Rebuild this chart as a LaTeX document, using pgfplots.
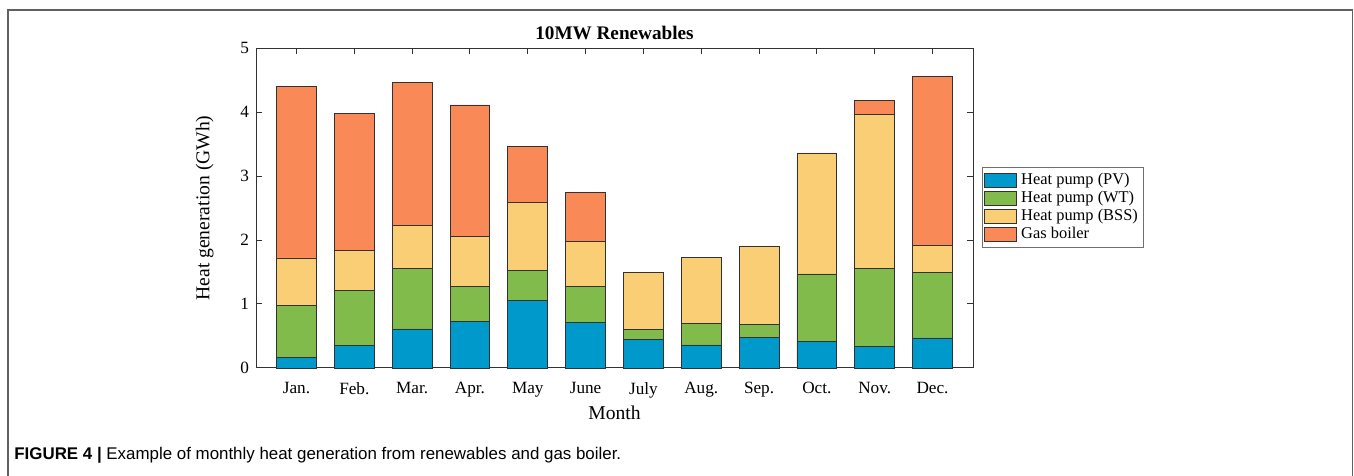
\documentclass[border=0pt]{standalone}
\usepackage{fontspec}
\setmainfont{Liberation Serif}
\newfontfamily\capfont{Liberation Sans}
\usepackage{pgfplots}
\pgfplotsset{compat=1.18}
\definecolor{cPV}{RGB}{0,153,204}
\definecolor{cWT}{RGB}{128,187,76}
\definecolor{cBSS}{RGB}{250,206,116}
\definecolor{cGas}{RGB}{250,137,88}
\definecolor{edge}{RGB}{50,50,50}
\begin{document}
\begin{tikzpicture}
\useasboundingbox (0,0) rectangle (677pt,238pt);
\draw[gray!75!black, line width=0.7pt] (4pt,0) -- (4pt,233pt) -- (676.3pt,233pt) -- (676.3pt,0);
\begin{axis}[
  at={(128pt,54pt)}, anchor=south west,
  scale only axis, width=358.5pt, height=160pt,
  clip=false,
  ybar stacked, bar width=0.69,
  xmin=0.3, xmax=12.7, ymin=0, ymax=5,
  xtick={1,...,12},
  xticklabels={Jan.,Feb.,Mar.,Apr.,May,June,July,Aug.,Sep.,Oct.,Nov.,Dec.},
  ytick={0,1,2,3,4,5},
  tick align=inside, major tick length=3pt,
  axis line style={edge, line width=0.5pt},
  every tick/.style={edge, line width=0.5pt},
  tick label style={font=\fontsize{8.6}{10}\selectfont},
  /pgf/number format/assume math mode=true,
  xticklabel style={yshift=-3.5pt},
  xlabel={Month}, ylabel={Heat generation (GWh)},
  label style={font=\fontsize{9.8}{11}\selectfont},
  xlabel style={yshift=3pt},
  ylabel style={yshift=6.5pt},
  every axis plot/.append style={draw=edge, line width=0.4pt},
  legend style={at={(1.0126,0.628)}, anchor=north west, draw=edge!70, line width=0.4pt,
     font=\fontsize{8.2}{9.8}\selectfont, inner sep=1pt, row sep=-2.2pt,
     cells={anchor=west}},
  legend image code/.code={\draw[#1] (0pt,-3.4pt) rectangle (16pt,3.6pt);},
  legend cell align=left,
]
\addplot[fill=cPV] coordinates {(1,0.17) (2,0.35) (3,0.61) (4,0.73) (5,1.06) (6,0.71) (7,0.45) (8,0.36) (9,0.48) (10,0.42) (11,0.34) (12,0.47)};
\addplot[fill=cWT] coordinates {(1,0.81) (2,0.86) (3,0.95) (4,0.54) (5,0.46) (6,0.56) (7,0.15) (8,0.34) (9,0.20) (10,1.05) (11,1.21) (12,1.02)};
\addplot[fill=cBSS] coordinates {(1,0.74) (2,0.62) (3,0.67) (4,0.78) (5,1.07) (6,0.71) (7,0.89) (8,1.03) (9,1.22) (10,1.89) (11,2.41) (12,0.42)};
\addplot[fill=cGas] coordinates {(1,2.68) (2,2.15) (3,2.23) (4,2.06) (5,0.87) (6,0.76) (7,0) (8,0) (9,0) (10,0) (11,0.22) (12,2.64)};
\legend{Heat pump (PV),Heat pump (WT),Heat pump (BSS),Gas boiler}
\node[font=\bfseries\fontsize{9.6}{11}\selectfont] at (rel axis cs:0.5,1.047) {10MW Renewables};
\end{axis}
\node[anchor=base west, font=\capfont\fontsize{8.45}{10}\selectfont, inner sep=0pt] at (7pt,8pt) {\textbf{FIGURE 4 |} Example of monthly heat generation from renewables and gas boiler.};
\end{tikzpicture}
\end{document}
